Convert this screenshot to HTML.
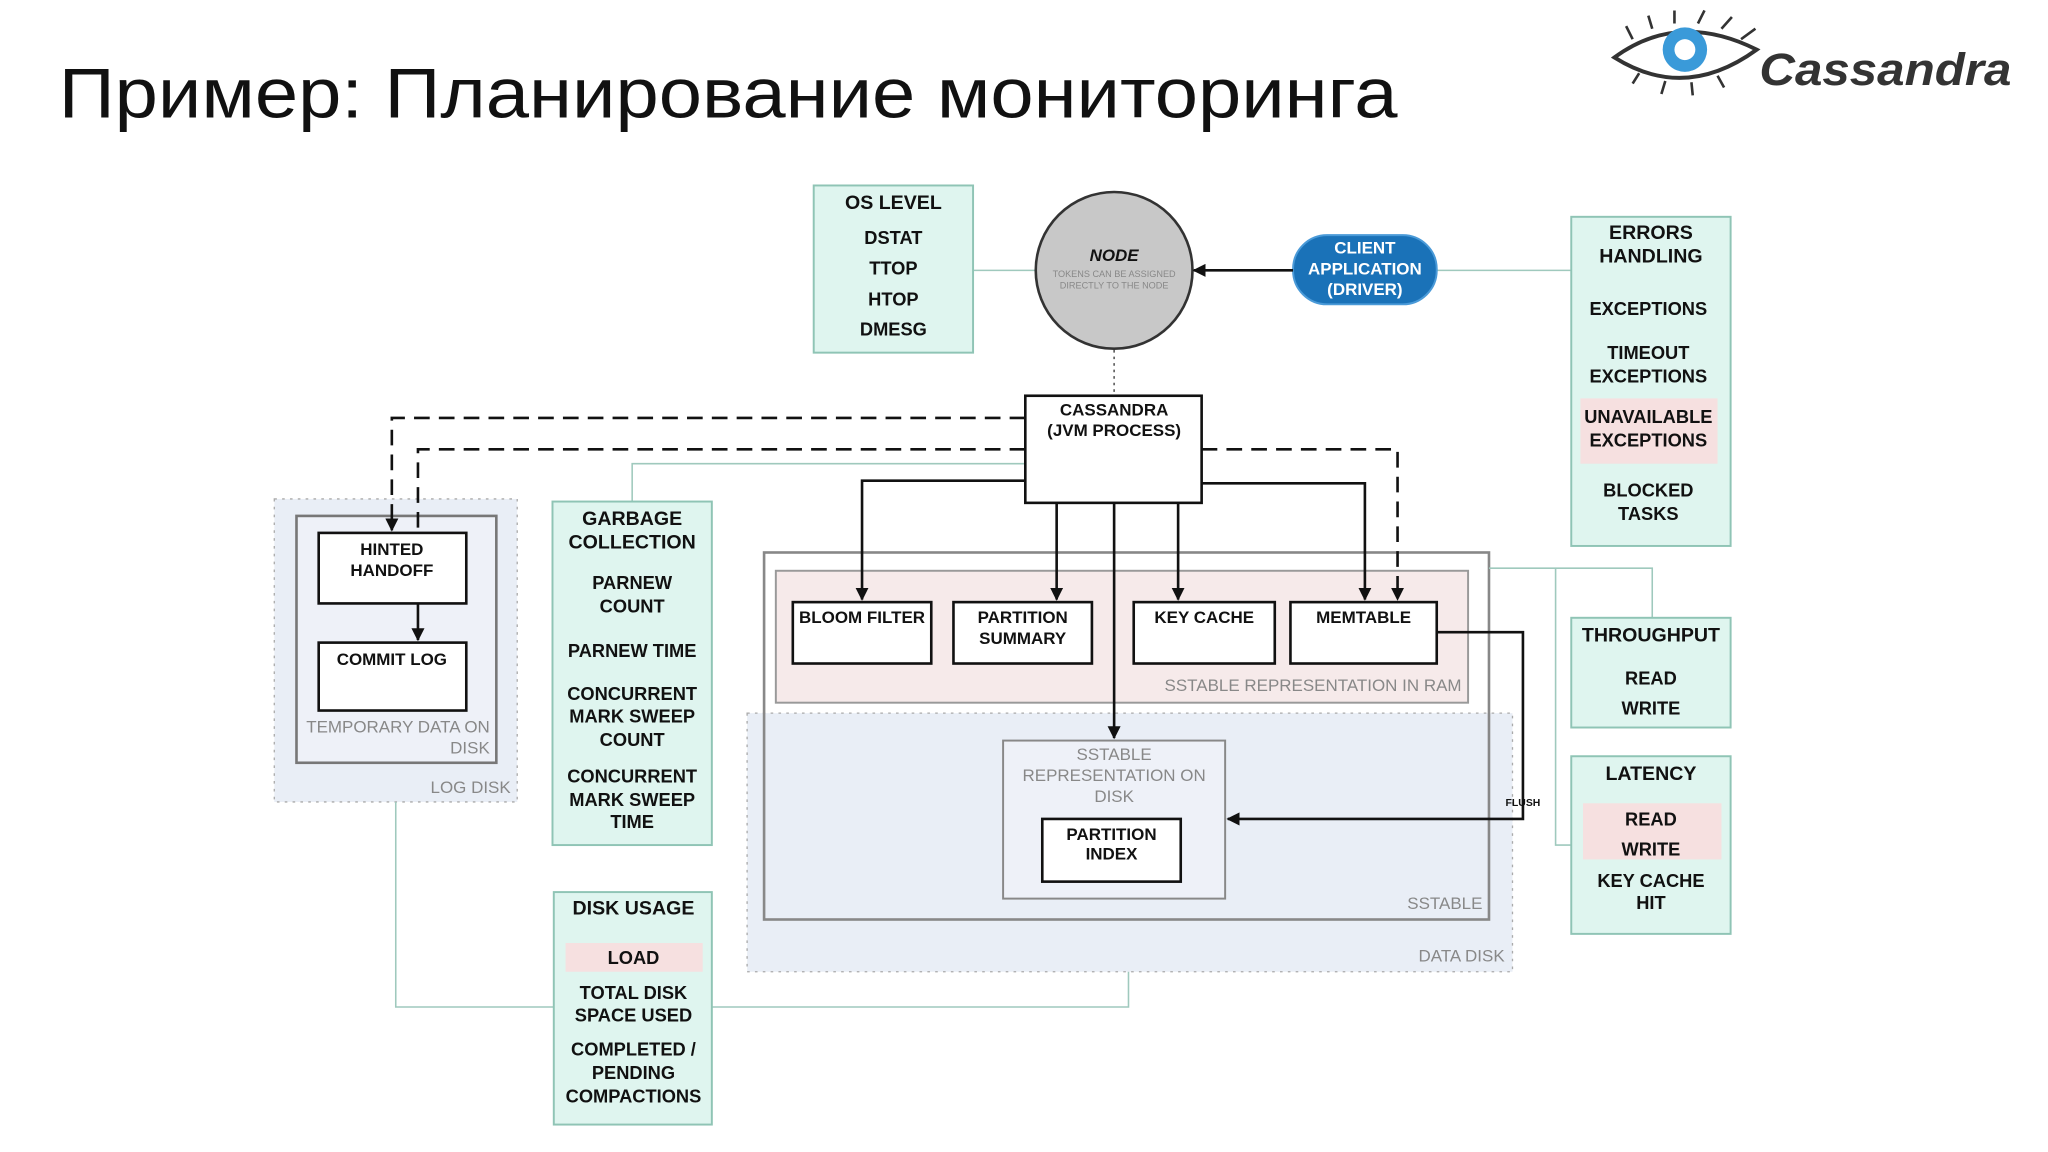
<!DOCTYPE html>
<html><head><meta charset="utf-8"><style>
html,body{margin:0;padding:0;background:#fff;width:2048px;height:1152px;overflow:hidden}
svg{display:block}
.t{font-family:"Liberation Sans Narrow","Liberation Sans",sans-serif;font-weight:bold;text-anchor:middle;fill:#111}
.h{font-size:15px}
.b{font-size:14px}
.s{font-size:13px}
.g{fill:#888;font-weight:normal}
.r{text-anchor:end}
</style></head><body>
<svg width="2048" height="1152" viewBox="0 0 1568 882" xmlns="http://www.w3.org/2000/svg">
<defs>
<marker id="a" markerWidth="10" markerHeight="10" refX="9" refY="5" orient="auto" markerUnits="userSpaceOnUse"><path d="M0,0 L10,5 L0,10 z" fill="#111"/></marker>
</defs>
<text x="45" y="90" font-family="Liberation Sans,sans-serif" font-size="54" fill="#111" textLength="1025" lengthAdjust="spacingAndGlyphs">Пример: Планирование мониторинга</text>
<g>
<path d="M1236,44 Q1285,8 1345,38 Q1290,78 1236,44 z" fill="#fff" stroke="#333" stroke-width="3"/>
<circle cx="1290" cy="38" r="17" fill="#3a9ad9"/>
<circle cx="1290" cy="38" r="8" fill="#fff"/>
<path d="M1250,30 L1245,20 M1265,22 L1262,12 M1282,18 L1282,8 M1300,18 L1305,8 M1318,22 L1326,13 M1333,30 L1344,22 M1255,56 L1250,64 M1275,62 L1272,72 M1295,63 L1296,73 M1315,58 L1320,67" stroke="#333" stroke-width="2"/>
<text x="1347" y="65" font-family="Liberation Sans,sans-serif" font-weight="bold" font-style="italic" font-size="35" fill="#333" textLength="193" lengthAdjust="spacingAndGlyphs">Cassandra</text>
</g>
<rect x="210" y="382" width="186" height="232" fill="#e9eef6" stroke="#aaa" stroke-dasharray="2,4"/>
<rect x="572" y="546" width="586" height="198" fill="#e9eef6" stroke="#aaa" stroke-dasharray="2,4"/>
<text class="t s g r" x="391" y="607">LOG DISK</text>
<text class="t s g r" x="1152" y="736">DATA DISK</text>
<rect x="227" y="395" width="153" height="189" fill="#eef1f8" stroke="#777" stroke-width="2"/>
<text class="t s g r" x="375" y="561">TEMPORARY DATA ON</text>
<text class="t s g r" x="375" y="577">DISK</text>
<rect x="585" y="423" width="555" height="281" fill="none" stroke="#888" stroke-width="2"/>
<text class="t s g r" x="1135" y="696">SSTABLE</text>
<rect x="594" y="437" width="530" height="101" fill="#f6eaea" stroke="#999" stroke-width="1.5"/>
<text class="t s g r" x="1119" y="529">SSTABLE REPRESENTATION IN RAM</text>
<rect x="768" y="567" width="170" height="121" fill="#eef1f8" stroke="#888" stroke-width="1.5"/>
<text class="t s g" x="853" y="582">SSTABLE</text>
<text class="t s g" x="853" y="598">REPRESENTATION ON</text>
<text class="t s g" x="853" y="614">DISK</text>
<g stroke="#9fc9bd" stroke-width="1.2" fill="none">
<path d="M745,207 H793"/>
<path d="M1100,207 H1203"/>
<path d="M484,384 V355 H785"/>
<path d="M303,614 V771 H424"/>
<path d="M545,771 H864 V744"/>
<path d="M1140,435 H1265 V473"/>
<path d="M1191,435 V647 H1203"/>
</g>
<g fill="#dff5ef" stroke="#8fc4b5" stroke-width="1.5">
<rect x="623" y="142" width="122" height="128"/>
<rect x="1203" y="166" width="122" height="252"/>
<rect x="423" y="384" width="122" height="263"/>
<rect x="424" y="683" width="121" height="178"/>
<rect x="1203" y="473" width="122" height="84"/>
<rect x="1203" y="579" width="122" height="136"/>
</g>
<g fill="#f6e0e0">
<rect x="1210" y="305" width="105" height="50"/>
<rect x="433" y="722" width="105" height="22"/>
<rect x="1212" y="615" width="106" height="43"/>
</g>
<text class="t h" x="684" y="160">OS LEVEL</text>
<text class="t b" x="684" y="187">DSTAT</text>
<text class="t b" x="684" y="210">TTOP</text>
<text class="t b" x="684" y="234">HTOP</text>
<text class="t b" x="684" y="257">DMESG</text>

<text class="t h" x="1264" y="183">ERRORS</text>
<text class="t h" x="1264" y="201">HANDLING</text>
<text class="t b" x="1262" y="241">EXCEPTIONS</text>
<text class="t b" x="1262" y="275">TIMEOUT</text>
<text class="t b" x="1262" y="293">EXCEPTIONS</text>
<text class="t b" x="1262" y="324">UNAVAILABLE</text>
<text class="t b" x="1262" y="342">EXCEPTIONS</text>
<text class="t b" x="1262" y="380">BLOCKED</text>
<text class="t b" x="1262" y="398">TASKS</text>

<text class="t h" x="484" y="402">GARBAGE</text>
<text class="t h" x="484" y="420">COLLECTION</text>
<text class="t b" x="484" y="451">PARNEW</text>
<text class="t b" x="484" y="469">COUNT</text>
<text class="t b" x="484" y="503">PARNEW TIME</text>
<text class="t b" x="484" y="536">CONCURRENT</text>
<text class="t b" x="484" y="553">MARK SWEEP</text>
<text class="t b" x="484" y="571">COUNT</text>
<text class="t b" x="484" y="599">CONCURRENT</text>
<text class="t b" x="484" y="617">MARK SWEEP</text>
<text class="t b" x="484" y="634">TIME</text>

<text class="t h" x="485" y="700">DISK USAGE</text>
<text class="t b" x="485" y="738">LOAD</text>
<text class="t b" x="485" y="765">TOTAL DISK</text>
<text class="t b" x="485" y="782">SPACE USED</text>
<text class="t b" x="485" y="808">COMPLETED /</text>
<text class="t b" x="485" y="826">PENDING</text>
<text class="t b" x="485" y="844">COMPACTIONS</text>

<text class="t h" x="1264" y="491">THROUGHPUT</text>
<text class="t b" x="1264" y="524">READ</text>
<text class="t b" x="1264" y="547">WRITE</text>

<text class="t h" x="1264" y="597">LATENCY</text>
<text class="t b" x="1264" y="632">READ</text>
<text class="t b" x="1264" y="655">WRITE</text>
<text class="t b" x="1264" y="679">KEY CACHE</text>
<text class="t b" x="1264" y="696">HIT</text>
<ellipse cx="853" cy="207" rx="60" ry="60" fill="#c8c8c8" stroke="#333" stroke-width="2"/>
<text class="t s" x="853" y="200" font-style="italic">NODE</text>
<text class="t g" x="853" y="212" font-size="7">TOKENS CAN BE ASSIGNED</text>
<text class="t g" x="853" y="221" font-size="7">DIRECTLY TO THE NODE</text>
<rect x="990" y="180" width="110" height="53" rx="26" fill="#1a72b8" stroke="#4a9ad8" stroke-width="1.5"/>
<text class="t s" x="1045" y="194" style="fill:#fff">CLIENT</text>
<text class="t s" x="1045" y="210" style="fill:#fff">APPLICATION</text>
<text class="t s" x="1045" y="226" style="fill:#fff">(DRIVER)</text>
<path d="M990,207 H914" stroke="#111" stroke-width="2" marker-end="url(#a)"/>
<path d="M853,268 V302" stroke="#555" stroke-width="1.2" stroke-dasharray="2,3"/>
<rect x="785" y="303" width="135" height="82" fill="#fff" stroke="#111" stroke-width="2"/>
<text class="t s" x="853" y="318">CASSANDRA</text>
<text class="t s" x="853" y="334">(JVM PROCESS)</text>
<g stroke="#111" stroke-width="2" fill="none" stroke-dasharray="12,7">
<path d="M785,320 H300 V406" marker-end="url(#a)"/>
<path d="M785,344 H320 V408"/>
<path d="M920,344 H1070 V459" marker-end="url(#a)"/>
</g>
<g stroke="#111" stroke-width="2" fill="none">
<path d="M785,368 H660 V459" marker-end="url(#a)"/>
<path d="M809,385 V459" marker-end="url(#a)"/>
<path d="M853,385 V565" marker-end="url(#a)"/>
<path d="M902,385 V459" marker-end="url(#a)"/>
<path d="M920,370 H1045 V459" marker-end="url(#a)"/>
<path d="M1100,484 H1166 V627 H940" marker-end="url(#a)"/>
<path d="M320,462 V490" marker-end="url(#a)"/>
</g>
<text class="t" x="1166" y="617" font-size="8" font-weight="normal">FLUSH</text>
<g fill="#fff" stroke="#111" stroke-width="2">
<rect x="244" y="408" width="113" height="54"/>
<rect x="244" y="492" width="113" height="52"/>
<rect x="607" y="461" width="106" height="47"/>
<rect x="730" y="461" width="106" height="47"/>
<rect x="868" y="461" width="108" height="47"/>
<rect x="988" y="461" width="112" height="47"/>
<rect x="798" y="627" width="106" height="48"/>
</g>
<text class="t s" x="300" y="425">HINTED</text>
<text class="t s" x="300" y="441">HANDOFF</text>
<text class="t s" x="300" y="509">COMMIT LOG</text>
<text class="t s" x="660" y="477">BLOOM FILTER</text>
<text class="t s" x="783" y="477">PARTITION</text>
<text class="t s" x="783" y="493">SUMMARY</text>
<text class="t s" x="922" y="477">KEY CACHE</text>
<text class="t s" x="1044" y="477">MEMTABLE</text>
<text class="t s" x="851" y="643">PARTITION</text>
<text class="t s" x="851" y="658">INDEX</text>
</svg>
</body></html>
